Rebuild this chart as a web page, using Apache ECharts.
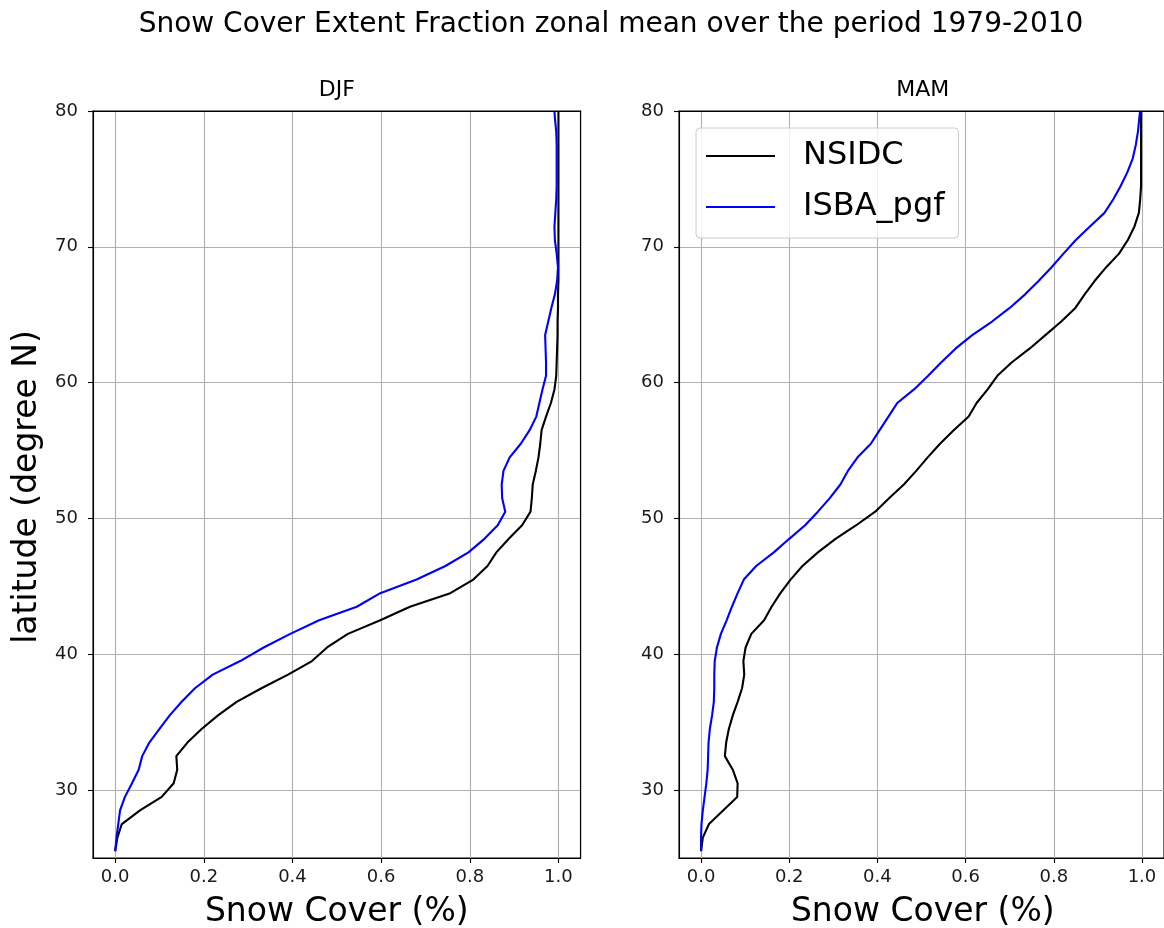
<!DOCTYPE html>
<html>
<head>
<meta charset="utf-8">
<script src="https://cdn.jsdelivr.net/npm/echarts@6/dist/echarts.min.js"></script>
<style>
html,body{margin:0;padding:0;background:#fff;}
#chart{width:1164px;height:928px;}
</style>
</head>
<body>
<div id="chart"></div>
<script>
// ---- data ----
const lat = [25.5,26.5,27.5,28.5,29.5,30.5,31.5,32.5,33.5,34.5,35.5,36.5,37.5,38.5,39.5,40.5,41.5,42.5,43.5,44.5,45.5,46.5,47.5,48.5,49.5,50.5,51.5,52.5,53.5,54.5,55.5,56.5,57.5,58.5,59.5,60.5,61.5,62.5,63.5,64.5,65.5,66.5,67.5,68.5,69.5,70.5,71.5,72.5,73.5,74.5,75.5,76.5,77.5,78.5,79.5,80];
const djfNsidc = [0.000,0.005,0.015,0.056,0.105,0.132,0.140,0.138,0.163,0.195,0.232,0.274,0.330,0.390,0.444,0.478,0.525,0.598,0.665,0.756,0.808,0.840,0.860,0.888,0.918,0.937,0.940,0.942,0.949,0.955,0.959,0.962,0.972,0.983,0.991,0.995,0.996,0.997,0.998,0.998,0.999,0.999,1.000,1.000,1.000,1.000,1.000,1.000,1.000,1.000,1.000,1.000,1.000,1.000,1.000,1.000];
const djfIsba = [0.000,0.003,0.007,0.011,0.022,0.038,0.053,0.061,0.077,0.100,0.123,0.150,0.180,0.220,0.282,0.335,0.395,0.460,0.545,0.598,0.680,0.745,0.797,0.833,0.863,0.880,0.873,0.872,0.876,0.890,0.915,0.935,0.950,0.957,0.964,0.972,0.972,0.971,0.970,0.977,0.984,0.992,0.997,0.999,0.996,0.992,0.991,0.993,0.995,0.996,0.996,0.996,0.996,0.995,0.992,0.991];
const mamNsidc = [0.000,0.004,0.018,0.050,0.082,0.083,0.072,0.054,0.057,0.063,0.072,0.083,0.093,0.098,0.096,0.101,0.114,0.143,0.160,0.180,0.203,0.230,0.265,0.305,0.352,0.395,0.427,0.460,0.488,0.514,0.542,0.573,0.607,0.625,0.650,0.672,0.705,0.745,0.781,0.817,0.849,0.870,0.893,0.919,0.948,0.968,0.983,0.993,0.996,0.998,0.998,0.998,0.998,0.998,0.998,0.998];
const mamIsba = [0.000,0.000,0.001,0.004,0.008,0.012,0.015,0.016,0.017,0.020,0.025,0.029,0.030,0.030,0.031,0.036,0.045,0.058,0.070,0.083,0.097,0.125,0.165,0.200,0.236,0.265,0.292,0.316,0.333,0.355,0.385,0.405,0.425,0.445,0.483,0.515,0.545,0.577,0.615,0.660,0.700,0.735,0.766,0.795,0.822,0.850,0.882,0.915,0.935,0.952,0.967,0.979,0.986,0.991,0.994,0.996];
const xTicks = [0, 0.2, 0.4, 0.6, 0.8, 1.0];
const yTicks = [30, 40, 50, 60, 70, 80];
const panelTitles = ['DJF', 'MAM'];
const seriesNames = ['NSIDC', 'ISBA_pgf'];
const mainTitle = 'Snow Cover Extent Fraction zonal mean over the period 1979-2010';
const xName = 'Snow Cover (%)';
const yName = 'latitude (degree N)';

// ---- chart ----
const FONT = 'DejaVu Sans';
const chart = echarts.init(document.getElementById('chart'), null, {renderer: 'canvas'});
const pair = (vals) => vals.map((v, i) => [v, lat[i]]);

const grids = [
  {left: 93, top: 111, width: 487.6, height: 747},
  {left: 679, top: 111, width: 487.6, height: 747}
];

function xAx(i) {
  return {
    gridIndex: i, type: 'value', min: -0.05, max: 1.05,
    axisLine: {show: true, onZero: false, lineStyle: {color: '#000', width: 1.1}},
    axisTick: {show: true, inside: false, length: 5, customValues: xTicks, lineStyle: {color: '#000', width: 1.1}},
    axisLabel: {show: true, customValues: xTicks, margin: 10, fontFamily: FONT, fontSize: 18, color: '#1a1a1a',
      formatter: v => Number(v).toFixed(1)},
    splitLine: {show: true, lineStyle: {color: '#b0b0b0', width: 1.1}}
  };
}
function yAx(i) {
  return {
    gridIndex: i, type: 'value', min: 25, max: 80,
    axisLine: {show: true, onZero: false, lineStyle: {color: '#000', width: 1.1}},
    axisTick: {show: true, inside: false, length: 5, customValues: yTicks, lineStyle: {color: '#000', width: 1.1}},
    axisLabel: {show: true, customValues: yTicks, margin: 15, fontFamily: FONT, fontSize: 18, color: '#1a1a1a'},
    splitLine: {show: true, lineStyle: {color: '#b0b0b0', width: 1.1}}
  };
}
// frame-only axes (top / right spines)
function xFrame(i) {
  return {gridIndex: i, type: 'value', position: 'top', min: -0.05, max: 1.05, z: 5,
    axisLine: {show: true, onZero: false, lineStyle: {color: '#000', width: 1.1}},
    axisTick: {show: false}, axisLabel: {show: false}, splitLine: {show: false}};
}
function yFrame(i) {
  return {gridIndex: i, type: 'value', position: 'right', min: 25, max: 80, z: 5,
    axisLine: {show: true, onZero: false, lineStyle: {color: '#000', width: 1.1}},
    axisTick: {show: false}, axisLabel: {show: false}, splitLine: {show: false}};
}

function lineSeries(name, vals, idx, color) {
  return {
    name: name, type: 'line', xAxisIndex: idx, yAxisIndex: idx,
    data: pair(vals), showSymbol: false, symbol: 'none', smooth: false, clip: true,
    lineStyle: {color: color, width: 2.1}, itemStyle: {color: color},
    animation: false, z: 3
  };
}

const option = {
  animation: false,
  backgroundColor: '#fff',
  grid: grids.map(g => Object.assign({show: true, borderColor: '#000', borderWidth: 1.1, backgroundColor: 'transparent', containLabel: false}, g)),
  xAxis: [xAx(0), xAx(1), xFrame(0), xFrame(1)],
  yAxis: [yAx(0), yAx(1), yFrame(0), yFrame(1)],
  legend: {
    show: true, left: 696, top: 128, orient: 'vertical',
    data: seriesNames,
    icon: 'rect', itemWidth: 69, itemHeight: 2, itemGap: 17,
    padding: [11, 14, 14, 10],
    backgroundColor: 'rgba(255,255,255,0.8)', borderColor: '#cccccc', borderWidth: 1, borderRadius: 4,
    textStyle: {fontFamily: FONT, fontSize: 32, color: '#000', lineHeight: 34, padding: [0, 0, 0, 23]},
    z: 10
  },
  series: [
    lineSeries(seriesNames[0], djfNsidc, 0, '#000000'),
    lineSeries(seriesNames[1], djfIsba, 0, '#0000ff'),
    lineSeries(seriesNames[0], mamNsidc, 1, '#000000'),
    lineSeries(seriesNames[1], mamIsba, 1, '#0000ff')
  ],
  graphic: [
    {type: 'text', x: 611, y: 24.5, style: {text: mainTitle, fontFamily: FONT, fontSize: 28, fill: '#000', textAlign: 'center', textVerticalAlign: 'middle'}},
    {type: 'text', x: 336.8, y: 90.5, style: {text: panelTitles[0], fontFamily: FONT, fontSize: 22, fill: '#000', textAlign: 'center', textVerticalAlign: 'middle'}},
    {type: 'text', x: 922.8, y: 90.5, style: {text: panelTitles[1], fontFamily: FONT, fontSize: 22, fill: '#000', textAlign: 'center', textVerticalAlign: 'middle'}},
    {type: 'text', x: 336.8, y: 912, style: {text: xName, fontFamily: FONT, fontSize: 33, fill: '#000', textAlign: 'center', textVerticalAlign: 'middle'}},
    {type: 'text', x: 922.8, y: 912, style: {text: xName, fontFamily: FONT, fontSize: 33, fill: '#000', textAlign: 'center', textVerticalAlign: 'middle'}},
    {type: 'text', x: 27, y: 487, rotation: Math.PI / 2, style: {text: yName, fontFamily: FONT, fontSize: 33, fill: '#000', textAlign: 'center', textVerticalAlign: 'middle'}}
  ]
};
chart.setOption(option);
</script>
</body>
</html>
